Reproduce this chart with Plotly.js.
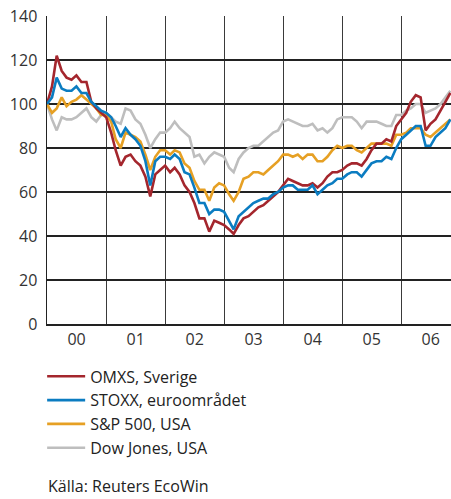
<!DOCTYPE html>
<html>
<head>
<meta charset="utf-8">
<script src="https://cdn.plot.ly/plotly-3.0.1.min.js"></script>
<style>
html,body{margin:0;padding:0;background:#fff;}
#chart{width:451px;height:499px;}
</style>
</head>
<body>
<div id="chart"></div>
<script>
// Monthly observations, Jan 2000 .. Nov 2006 (index, start = 100)
var startYear = 2000;
var nMonths = 83;

var omxs = [100,108,122,115,112,111,113,110,110,101,98,96,
94,87,79,72,76,77,74,72,67,58,68,70,
72,69,71,68,63,60,55,48,48,42,47,46,
45,43,41,45,48,49,51,53,54,56,58,60,
63,66,65,64,63,63,64,62,64,67,69,69,
70,72,73,73,72,75,79,82,82,84,83,90,
93,96,101,104,103,88,91,93,97,101,105];

var stoxx = [100,103,112,107,106,106,108,105,105,101,99,97,
96,94,90,85,89,86,84,81,74,63,74,76,
76,75,77,75,69,68,62,55,55,50,52,52,
51,47,43,49,51,53,55,56,57,57,59,60,
62,63,63,61,61,61,63,59,61,63,64,66,
66,68,69,69,67,70,73,74,74,76,75,80,
84,86,88,90,90,81,81,85,87,89,93];

var sp500 = [100,96,98,103,99,101,102,104,102,100,98,95,
95,92,84,80,87,86,85,83,77,70,76,79,
79,77,79,78,73,71,65,61,61,56,62,64,
63,59,56,60,66,67,69,69,68,70,72,74,
77,77,76,77,75,77,77,74,74,76,79,81,
80,81,81,79,78,80,82,82,82,82,81,86,
86,87,89,89,89,86,85,87,89,91,93];

var dowjones = [100,93,88,94,93,93,94,96,98,94,92,95,
96,94,92,91,98,97,93,91,86,80,84,87,
87,89,92,89,87,85,76,77,73,76,78,77,
76,71,69,75,78,80,81,81,83,85,87,88,
92,93,92,91,90,90,91,88,89,87,89,93,
94,94,94,92,89,92,92,92,91,90,90,95,
95,97,98,100,100,96,97,98,100,103,106];

var seriesNames = ["OMXS, Sverige", "STOXX, euroområdet", "S&P 500, USA", "Dow Jones, USA"];
var yTicks = [0,20,40,60,80,100,120,140];
var sourceText = "Källa: Reuters EcoWin";

var dates = [];
for (var i = 0; i < nMonths; i++) {
  var y = startYear + Math.floor(i / 12);
  var m = (i % 12) + 1;
  dates.push(y + "-" + (m < 10 ? "0" + m : m) + "-01");
}

var FONT = "Open Sans, Noto Sans, DejaVu Sans, sans-serif";
function tr(vals, name, color, rank) {
  return {x: dates, y: vals, name: name, type: "scatter", mode: "lines",
          line: {color: color, width: 2.6}, legendrank: rank, legendgroup: "g" + rank,
          hoverinfo: "skip"};
}

var data = [
  tr(dowjones, seriesNames[3], "#BEBEBE", 4),
  tr(sp500, seriesNames[2], "#E6A024", 3),
  tr(omxs, seriesNames[0], "#A4262D", 1),
  tr(stoxx, seriesNames[1], "#0B7CC1", 2)
];

var layout = {
  width: 451, height: 499,
  margin: {l: 47, r: 0, t: 16, b: 175, pad: 0},
  paper_bgcolor: "#fff", plot_bgcolor: "#fff",
  showlegend: true,
  legend: {
    x: -0.012, xanchor: "left", y: -0.115, yanchor: "top",
    traceorder: "grouped", tracegroupgap: 0,
    font: {family: FONT, size: 16, color: "#222"},
    bgcolor: "rgba(0,0,0,0)", itemwidth: 38
  },
  xaxis: {
    type: "date",
    range: ["2000-01-01", "2006-11-05"],
    dtick: "M12", tick0: "2000-01-01", tickformat: "%y",
    ticklabelmode: "period",
    showgrid: true, gridcolor: "#3a3a3a", gridwidth: 1.2,
    showline: true, linecolor: "#222", linewidth: 1.5,
    ticks: "", zeroline: false,
    tickfont: {family: FONT, size: 16, color: "#333"},
    fixedrange: true
  },
  yaxis: {
    range: [0, 140], tickvals: yTicks,
    showgrid: true, gridcolor: "#222", gridwidth: 1.5,
    showline: true, linecolor: "#222", linewidth: 1.5,
    ticks: "", zeroline: false, ticklabelstandoff: 5,
    tickfont: {family: FONT, size: 16, color: "#333"},
    fixedrange: true
  },
  annotations: [{
    text: sourceText, xref: "paper", yref: "paper",
    x: 0, xanchor: "left", y: -(498 - 324) / 308, yanchor: "bottom",
    borderpad: 0, showarrow: false, font: {family: FONT, size: 16, color: "#222"}
  }]
};

Plotly.newPlot("chart", data, layout, {staticPlot: true, displayModeBar: false});
</script>
</body>
</html>
